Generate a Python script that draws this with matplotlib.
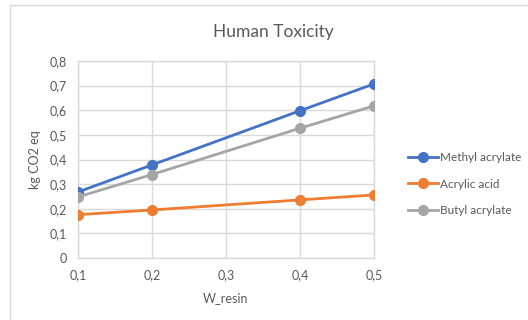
import matplotlib.pyplot as plt
from matplotlib.patches import Rectangle
from matplotlib.ticker import FuncFormatter

# W_resin fractions and kg CO2 eq per series
w_resin = [0.1, 0.2, 0.4, 0.5]
methyl_acrylate = [0.268, 0.378, 0.598, 0.707]
acrylic_acid = [0.176, 0.195, 0.236, 0.256]
butyl_acrylate = [0.248, 0.339, 0.527, 0.618]

series = [
    ("Methyl acrylate", methyl_acrylate, "#4472C4"),
    ("Acrylic acid", acrylic_acid, "#ED7D31"),
    ("Butyl acrylate", butyl_acrylate, "#A5A5A5"),
]

plt.rcParams['font.family'] = ['Lato', 'DejaVu Sans']
text_col = "#595959"
grid_col = "#D9D9D9"

fig = plt.figure(figsize=(5.28, 3.2), dpi=100)
fig.patch.set_facecolor("white")

# outer chart frame
fig.patches.append(Rectangle((10 / 528, -0.1), 1.2, (320 - 5) / 320 + 0.1,
                             transform=fig.transFigure, fill=False,
                             edgecolor="#D9D9D9", linewidth=1.0))

ax = fig.add_axes([78 / 528, 62 / 320, 296 / 528, 197 / 320])

for name, vals, col in series:
    ax.plot(w_resin, vals, color=col, linewidth=2, marker="o", markersize=7,
            label=name, zorder=3)

ax.set_xlim(0.1, 0.5)
ax.set_ylim(0, 0.8)
ax.set_xticks([0.1, 0.2, 0.3, 0.4, 0.5])
ax.set_yticks([i / 10 for i in range(9)])

comma = FuncFormatter(lambda v, p: ("%g" % round(v, 2)).replace(".", ","))
ax.xaxis.set_major_formatter(comma)
ax.yaxis.set_major_formatter(comma)

ax.grid(True, color=grid_col, linewidth=1)
ax.set_axisbelow(True)
for s in ax.spines.values():
    s.set_color(grid_col)
    s.set_linewidth(1)
ax.tick_params(length=0, colors=text_col, labelsize=9)
ax.tick_params(axis="x", pad=8)
ax.tick_params(axis="y", pad=8)

ax.set_xlabel("W_resin", color=text_col, fontsize=9, labelpad=8)
ax.set_ylabel("kg CO2 eq", color=text_col, fontsize=9, labelpad=6)
fig.text(273 / 528, 1 - 32 / 320, "Human Toxicity", ha="center", va="center",
         color=text_col, fontsize=12.5)

leg = ax.legend(loc="center left", bbox_to_anchor=(1.08, 0.375), frameon=False,
                fontsize=8.5, handlelength=2.5, handletextpad=0.2,
                labelspacing=1.3)
for t in leg.get_texts():
    t.set_color(text_col)

fig.savefig("out.png", dpi=100)
